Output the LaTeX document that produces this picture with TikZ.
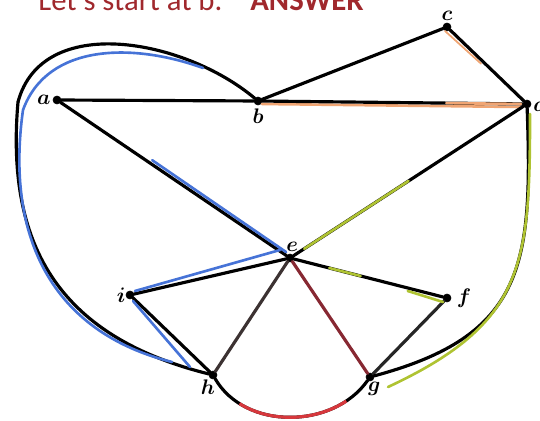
\documentclass[tikz,border=0pt]{standalone}
\usepackage{fontspec}
\newfontfamily\titlefont{Carlito}
\definecolor{answerred}{RGB}{160,40,45}
\definecolor{pathblue}{RGB}{70,115,215}
\definecolor{pathgreen}{RGB}{175,195,50}
\definecolor{pathorange}{RGB}{240,165,115}
\definecolor{pathred}{RGB}{215,55,60}
\definecolor{edgered}{RGB}{135,40,50}
\definecolor{edgegray}{RGB}{60,50,50}
\usetikzlibrary{positioning, calc}

\begin{document}
\begin{tikzpicture}[x=0.02cm, y=0.02cm,
    vertex/.style={draw, circle, fill=black, inner sep=0pt, minimum size=4.5pt},
    vlabel/.style={inner sep=1pt, font=\large\boldmath},
    edge/.style={line width=1.8pt, line cap=round},
    hlblue/.style={line width=1.5pt, draw=pathblue, line cap=round},
    hlgreen/.style={line width=1.5pt, draw=pathgreen, line cap=round},
    hlorange/.style={line width=1.5pt, draw=pathorange, line cap=round},
    hlred/.style={line width=1.8pt, draw=pathred}]
    \useasboundingbox (0,0) rectangle (540,-421);

    % Title
    \node[anchor=base west, inner sep=0pt, text=answerred, font=\titlefont\fontsize{17.5}{20}\selectfont] (title) at (38,-11) {Let's start at b.};
    \node[anchor=base west, inner sep=0pt, text=answerred, font=\titlefont\bfseries\fontsize{17.5}{20}\selectfont] (answer) at (250,-11) {ANSWER};

    % Vertices
    \node[vertex] (a) at (57,-100) {};
    \node[vertex] (b) at (258,-101) {};
    \node[vertex] (c) at (447,-27) {};
    \node[vertex] (d) at (527,-104) {};
    \node[vertex] (e) at (290,-258) {};
    \node[vertex] (f) at (447,-298) {};
    \node[vertex] (g) at (370,-377) {};
    \node[vertex] (h) at (213,-375) {};
    \node[vertex] (i) at (130,-295) {};
    \coordinate (aL) at (18,-102);

    % Labels
    \node[vlabel, left=0pt of a] {$a$};
    \node[vlabel, below=1pt of b] {$b$};
    \node[vlabel, above=0pt of c] {$c$};
    \node[vlabel, right=0pt of d] {$d$};
    \node[vlabel, above right=1pt and -5pt of e] {$e$};
    \node[vlabel, right=2pt of f] {$f$};
    \node[vlabel, below right=0pt and -4pt of g] {$g$};
    \node[vlabel, below left=0pt and -4pt of h] {$h$};
    \node[vlabel, left=-1pt of i] {$i$};

    % Highlights under the edges
    \draw[hlorange] ($(b)+(4,-3)$) -- ($(d)+(-6,-3)$);

    % Edges
    \draw[edge] (a) -- (b);
    \draw[edge] (b) -- (c);
    \draw[edge] (c) -- (d);
    \draw[edge] (b) -- (d);
    \draw[edge] (a) -- (e);
    \draw[edge] (d) -- (e);
    \draw[edge] (e) -- (i);
    \draw[edge] (e) -- (f);
    \draw[edge, draw=edgegray] (e) -- (h);
    \draw[edge, draw=edgered] (e) -- (g);
    \draw[edge, draw=black!85] (f) -- (g);
    \draw[edge] (i) -- (h);
    \draw[edge] (b) to[out=140, in=75] (aL);
    \draw[edge] (aL) to[out=265, in=166, looseness=1.15] (h);
    \draw[edge] (d) to[out=-88, in=15, looseness=1.3] (g);
    \draw[edge] (h) to[out=-60, in=-125] (g);

    % Highlighted circuit
    \draw[hlblue] ($(b)+(-55,33)$) to[out=160, in=70] ($(aL)+(5,-8)$)
        to[out=262, in=166, looseness=1.1] ($(h)+(-41,13)$);
    \draw[hlblue] ($(a)!0.4!(e)+(2,3)$) -- ($(e)+(-4,6)$);
    \draw[hlblue] ($(i)+(5,4)$) -- ($(e)+(-10,8)$);
    \draw[hlblue] ($(i)+(3,-6)$) -- ($(h)+(-23,8)$);
    \draw[hlorange] ($(b)!0.7!(d)$) -- ($(d)+(-6,0)$);
    \draw[hlorange, line width=1pt] ($(c)+(-2,-4)$) -- ($(c)!0.45!(d)+(-2,-2)$);
    \draw[hlgreen] ($(e)!0.06!(d)$) -- ($(e)!0.5!(d)$);
    \draw[hlgreen] ($(e)!0.25!(f)$) -- ($(e)!0.45!(f)$);
    \draw[hlgreen] ($(e)!0.75!(f)+(0,-3)$) -- ($(f)+(-4,-4)$);
    \draw[hlgreen] ($(d)+(3,-10)$) to[out=-90, in=25, looseness=1.25] ($(g)+(18,-10)$);
    \draw[hlred, dash pattern=on 0pt off 20pt on 64pt off 120pt] (h) to[out=-60, in=-125] (g);
\end{tikzpicture}
\end{document}
